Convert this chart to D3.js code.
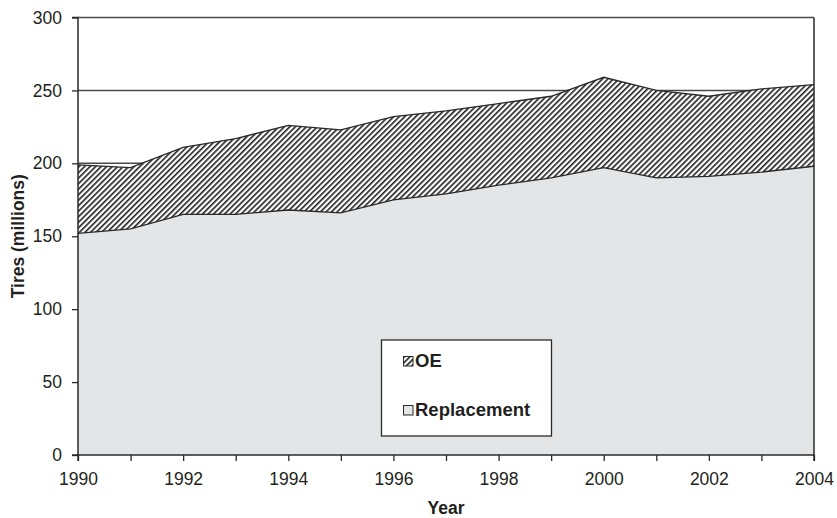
<!DOCTYPE html>
<html lang="en">
<head>
	<meta charset="UTF-8">
	<title>Tires</title>
	<script src="https://cdn.jsdelivr.net/npm/d3@7"></script>
	<style>
		body {
			margin: 0;
			background: #fff;
		}
		svg text {
			font-family: "Liberation Sans", Arial, sans-serif;
			fill: #231f20;
		}
	</style>
</head>
<body>
<div id="viz"></div>

<script type="text/javascript">
	// values (millions of tires)
	const years = [1990, 1991, 1992, 1993, 1994, 1995, 1996, 1997, 1998, 1999, 2000, 2001, 2002, 2003, 2004];
	const replacement = [152, 155, 165, 165, 168, 166, 175, 179, 185, 190, 197, 190, 191, 194, 198];
	const oe = [47, 42, 46, 52, 58, 57, 57, 57, 56, 56, 62, 60, 55, 57, 56];
	const yTicks = [0, 50, 100, 150, 200, 250, 300];
	const xLabelYears = [1990, 1992, 1994, 1996, 1998, 2000, 2002, 2004];
	const seriesNames = ['OE', 'Replacement'];

	const W = 837, H = 518;
	const margin = {top: 17.5, left: 78, bottom: 63, right: 23};
	const width = W - margin.left - margin.right;
	const height = H - margin.top - margin.bottom;
	const ink = '#2a2a2a';

	const rows = years.map((y, i) => ({year: y, Replacement: replacement[i], OE: oe[i]}));
	const stacked = d3.stack().keys(['Replacement', 'OE'])(rows);

	const x = d3.scaleLinear().domain([1990, 2004]).range([0, width]);
	const y = d3.scaleLinear().domain([0, 300]).range([height, 0]);

	const svg = d3.select('#viz').append('svg')
		.attr('width', W)
		.attr('height', H);

	const defs = svg.append('defs');
	const pat = defs.append('pattern')
		.attr('id', 'hatch')
		.attr('patternUnits', 'userSpaceOnUse')
		.attr('width', 3.9)
		.attr('height', 3.9)
		.attr('patternTransform', 'rotate(45)');
	pat.append('rect').attr('width', 3.9).attr('height', 3.9).attr('fill', '#fff');
	pat.append('rect').attr('width', 1.6).attr('height', 3.9).attr('fill', '#1e1e1e');

	const g = svg.append('g')
		.attr('transform', 'translate(' + margin.left + ',' + margin.top + ')');

	// gridlines behind the areas
	g.append('g').selectAll('line')
		.data(yTicks.filter(d => d > 0))
		.enter().append('line')
		.attr('x1', 0).attr('x2', width)
		.attr('y1', d => y(d)).attr('y2', d => y(d))
		.attr('stroke', '#4a4a4a')
		.attr('stroke-width', 1.5);

	const area = d3.area()
		.x(d => x(d.data.year))
		.y0(d => y(d[0]))
		.y1(d => y(d[1]));

	const fills = {Replacement: '#e4e5e7', OE: 'url(#hatch)'};

	g.selectAll('.layer')
		.data(stacked)
		.enter().append('path')
		.attr('class', 'layer')
		.attr('d', area)
		.attr('fill', d => fills[d.key]);

	const topLine = d3.line()
		.x(d => x(d.data.year))
		.y(d => y(d[1]));

	g.selectAll('.edge')
		.data(stacked)
		.enter().append('path')
		.attr('class', 'edge')
		.attr('d', topLine)
		.attr('fill', 'none')
		.attr('stroke', ink)
		.attr('stroke-width', 1.3);

	// right frame
	g.append('line')
		.attr('x1', width).attr('x2', width)
		.attr('y1', 0).attr('y2', height)
		.attr('stroke', ink).attr('stroke-width', 1.5);

	// axes
	const yAxis = d3.axisLeft(y).tickValues(yTicks).tickSize(6).tickPadding(10);
	const xAxis = d3.axisBottom(x).tickValues(years).tickSize(6).tickPadding(12)
		.tickFormat(d => xLabelYears.includes(d) ? d : '');

	const gy = g.append('g').call(yAxis);
	const gx = g.append('g').attr('transform', 'translate(0,' + height + ')').call(xAxis);

	[gy, gx].forEach(ax => {
		ax.select('.domain').attr('stroke', ink).attr('stroke-width', 1.5);
		ax.selectAll('.tick line').attr('stroke', ink).attr('stroke-width', 1.3);
		ax.selectAll('.tick text')
			.style('font-family', '"Liberation Sans", Arial, sans-serif')
			.style('font-size', '17.5px')
			.attr('fill', '#231f20');
	});
	gy.select('.domain').attr('d', 'M-6,0H0V' + height + 'H-6');
	gx.select('.domain').attr('d', 'M0,6V0H' + width + 'V6');

	// axis titles
	svg.append('text')
		.attr('x', margin.left + width / 2)
		.attr('y', 514)
		.attr('text-anchor', 'middle')
		.style('font-size', '17.5px')
		.style('font-weight', 'bold')
		.text('Year');

	svg.append('text')
		.attr('transform', 'translate(24,' + (margin.top + height / 2) + ') rotate(-90)')
		.attr('text-anchor', 'middle')
		.style('font-size', '17.5px')
		.style('font-weight', 'bold')
		.text('Tires (millions)');

	// legend
	const lg = svg.append('g').attr('transform', 'translate(381.5,340)');
	lg.append('rect')
		.attr('width', 170).attr('height', 96)
		.attr('fill', '#fff')
		.attr('stroke', ink).attr('stroke-width', 1.3);

	const items = lg.selectAll('.item')
		.data(seriesNames)
		.enter().append('g')
		.attr('class', 'item')
		.attr('transform', (d, i) => 'translate(22,' + (16.5 + i * 49) + ')');

	items.append('rect')
		.attr('width', 9.5).attr('height', 9.5)
		.attr('fill', d => d === 'OE' ? 'url(#hatch)' : '#e4e5e7')
		.attr('stroke', ink).attr('stroke-width', 1);

	items.append('text')
		.attr('x', 11.5)
		.attr('y', 10)
		.style('font-size', '18.5px')
		.style('font-weight', 'bold')
		.text(d => d);
</script>
</body>
</html>
